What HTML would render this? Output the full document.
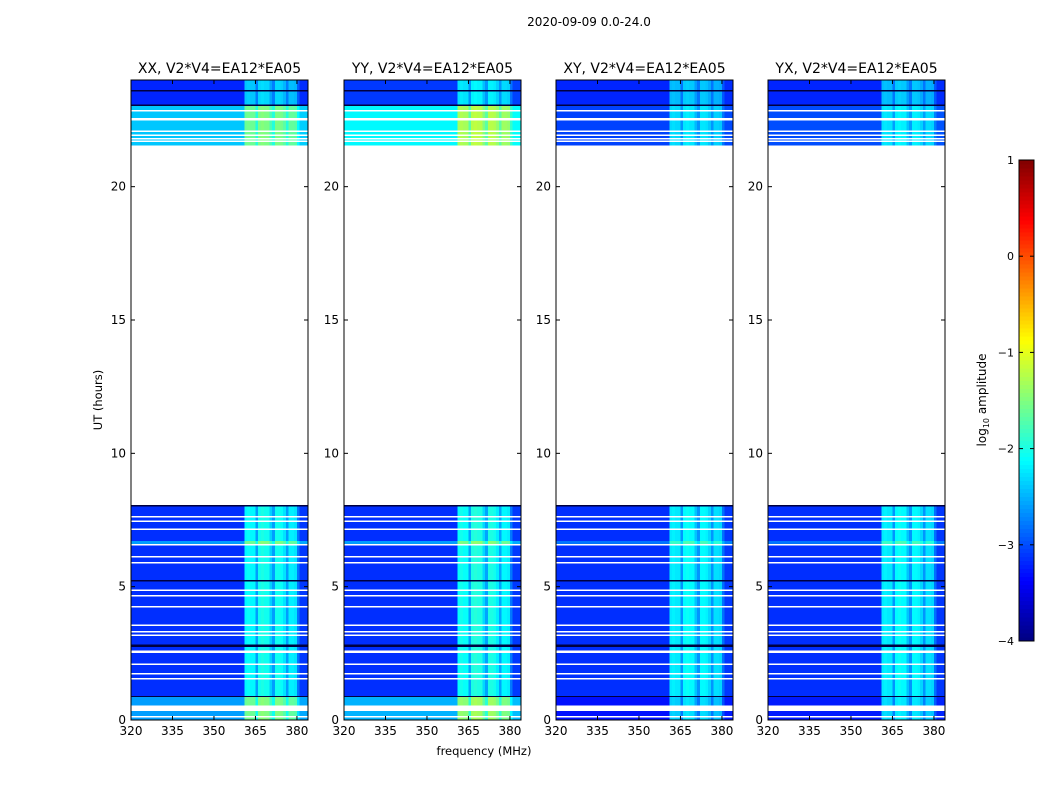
<!DOCTYPE html>
<html><head><meta charset="utf-8"><style>
body{margin:0;background:#fff;}
svg{display:block;font-family:"DejaVu Sans","Liberation Sans",sans-serif;}
</style></head><body>
<svg id="fig" width="1050" height="800" viewBox="0 0 1050 800">
<rect width="1050" height="800" fill="#fff"/>
<text x="589" y="26" font-size="12" text-anchor="middle">2020-09-09 0.0-24.0</text>
<text x="484" y="755" font-size="11.5" text-anchor="middle">frequency (MHz)</text>
<text x="0" y="0" font-size="11.5" text-anchor="middle" transform="translate(102,400) rotate(-90)">UT (hours)</text>
<g id="panels"></g>
<g id="cbar"></g>
</svg>
<script>
// ---- data ----
const panelNames = ["XX","YY","XY","YX"];
const panelTitles = ["XX, V2*V4=EA12*EA05","YY, V2*V4=EA12*EA05","XY, V2*V4=EA12*EA05","YX, V2*V4=EA12*EA05"];
const panelLeft = [131,344,556,768];
const xTicks = [320,335,350,365,380];
const yTicks = [0,5,10,15,20];
const cbTicks = [1,0,-1,-2,-3,-4];
// time segments (hours) with base log10 amplitude per panel
const segStart = [0.0, 0.9, 6.55, 6.72, 21.55, 23.06];
const segEnd   = [0.9, 6.55, 6.72, 8.05, 23.06, 24.0];
const levelXX = [-2.6,-3.15,-2.6,-3.15,-2.4,-3.2];
const levelYY = [-2.5,-3.15,-2.6,-3.15,-2.15,-3.1];
const levelXY = [-3.3,-3.15,-2.8,-3.15,-3.05,-3.2];
const levelYX = [-3.25,-3.15,-2.8,-3.15,-3.0,-3.2];
const panelLevels = [levelXX,levelYY,levelXY,levelYX];
// per-channel (1 MHz, 320..383) RFI boost
const chanFreq = [];
for (let f=320; f<384; f++) chanFreq.push(f);
const chanBoost = [0,0,0,0,0,0,0,0,0,0, 0,0,0,0,0,0,0,0,0,0, 0,0,0,0,0,0,0,0,0,0, 0,0,0,0,0,0,0,0,0,0,
  0,1.0,1.05,1.0,1.0,0.55,1.1,1.15,1.1,1.1, 0.8,0.55,1.1,1.1,1.05,0.9,0.55,0.95,0.95,0.9, 0.35,0.05,0.05,0.05];
const panelBoostScale = [1.0,1.05,0.92,0.92];
// flagged (white) time intervals
const gapStart = [0.1,0.33,1.52,1.72,2.07,2.52,3.17,3.29,3.54,4.23,4.63,4.85,5.88,6.1,6.57,7.14,7.44,7.6,8.05,21.69,21.79,21.92,22.06,22.48,22.83];
const gapEnd   = [0.15,0.55,1.57,1.77,2.12,2.6,3.21,3.33,3.59,4.28,4.68,4.9,5.93,6.15,6.6,7.19,7.49,7.65,21.55,21.73,21.83,21.96,22.1,22.58,22.88];
// dark (near-zero) time lines
const darkT = [0.88,2.76,2.8,5.22,8.04,23.06,23.6];

// ---- helpers ----
const NS="http://www.w3.org/2000/svg";
function jet(v){
  let t=(v+4)/5; t=Math.max(0,Math.min(1,t));
  const c=x=>Math.round(255*Math.max(0,Math.min(1,x)));
  return `rgb(${c(1.5-Math.abs(4*t-3))},${c(1.5-Math.abs(4*t-2))},${c(1.5-Math.abs(4*t-1))})`;
}
function mk(tag,attrs,parent){const e=document.createElementNS(NS,tag);for(const k in attrs)e.setAttribute(k,attrs[k]);parent.appendChild(e);return e;}
const top0=80, bot0=720, pw=177;
const yOf=h=>bot0-(h/24)*(bot0-top0);
const panelsG=document.getElementById('panels');

panelNames.forEach((pn,p)=>{
  const x0=panelLeft[p];
  const xOf=f=>x0+(f-320)/64*pw;
  const g=mk('g',{},panelsG);
  
  
  const t=mk('text',{x:x0+pw/2,y:73,'font-size':14,'text-anchor':'middle'},g);
  t.textContent=panelTitles[p];
  
  
  const hm=mk('g',{'shape-rendering':'crispEdges'},g);
  
  
  segStart.forEach((s,si)=>{
    const y1=yOf(segEnd[si]), y2=yOf(s);
    chanFreq.forEach((f,ci)=>{
      const v=panelLevels[p][si]+chanBoost[ci]*panelBoostScale[p]*(si>=4?0.8:1);
      const r=mk('rect',{x:xOf(f),y:y1,width:pw/64+0.4,height:y2-y1,fill:jet(v)},hm);
      
      
    });
  });
  gapStart.forEach((s,i)=>{
    const r=mk('rect',{x:x0,y:yOf(gapEnd[i]),width:pw,height:Math.max(1.5,yOf(s)-yOf(gapEnd[i])),fill:'#fff'},hm);
    
    
  });
  darkT.forEach(h=>{
    const r=mk('rect',{x:x0,y:yOf(h)-0.7,width:pw,height:1.4,fill:'#000040'},hm);
    
    
  });
  const fr=mk('rect',{x:x0,y:top0,width:pw,height:bot0-top0,fill:'none',stroke:'#000','stroke-width':1},g);
  
  
  xTicks.forEach(v=>{
    const x=xOf(v);
    mk('line',{x1:x,x2:x,y1:bot0,y2:bot0-4,stroke:'#000'},g);
    mk('line',{x1:x,x2:x,y1:top0,y2:top0+4,stroke:'#000'},g);
    const tl=mk('text',{x:x,y:bot0+15,'font-size':12,'text-anchor':'middle'},g);
    tl.textContent=v;
    
    
  });
  yTicks.forEach(v=>{
    const y=yOf(v);
    mk('line',{x1:x0,x2:x0+4,y1:y,y2:y,stroke:'#000'},g);
    mk('line',{x1:x0+pw,x2:x0+pw-4,y1:y,y2:y,stroke:'#000'},g);
    const tl=mk('text',{x:x0-5,y:y+4,'font-size':12,'text-anchor':'end'},g);
    tl.textContent=v;
    
    
  });
});

// colorbar
const cb=document.getElementById('cbar');


const cbTop=160, cbBot=641, cbX=1019, cbW=15;
const cbY=v=>cbTop+(1-v)/5*(cbBot-cbTop);
const cbg=mk('g',{'shape-rendering':'crispEdges'},cb);
for(let i=0;i<120;i++){
  const v=-4+5*(i+0.5)/120;
  mk('rect',{x:cbX,y:cbY(v)-(cbBot-cbTop)/240-0.3,width:cbW,height:(cbBot-cbTop)/120+0.6,fill:jet(v)},cbg);
}
mk('rect',{x:cbX,y:cbTop,width:cbW,height:cbBot-cbTop,fill:'none',stroke:'#000'},cb);
cbTicks.forEach(v=>{
  const y=cbY(v);
  mk('line',{x1:cbX,x2:cbX+4,y1:y,y2:y,stroke:'#000'},cb);
  mk('line',{x1:cbX+cbW,x2:cbX+cbW-4,y1:y,y2:y,stroke:'#000'},cb);
  const tl=mk('text',{x:cbX-5,y:y+4,'font-size':11,'text-anchor':'end'},cb);
  tl.textContent=v<0?'\u2212'+(-v):String(v);
  
  
});
const cl=mk('text',{'font-size':12,'text-anchor':'middle',transform:'translate(986,400) rotate(-90)'},cb);
cl.innerHTML='log<tspan font-size="8" dy="3">10</tspan><tspan dy="-3"> amplitude</tspan>';


</script>
</body></html>
